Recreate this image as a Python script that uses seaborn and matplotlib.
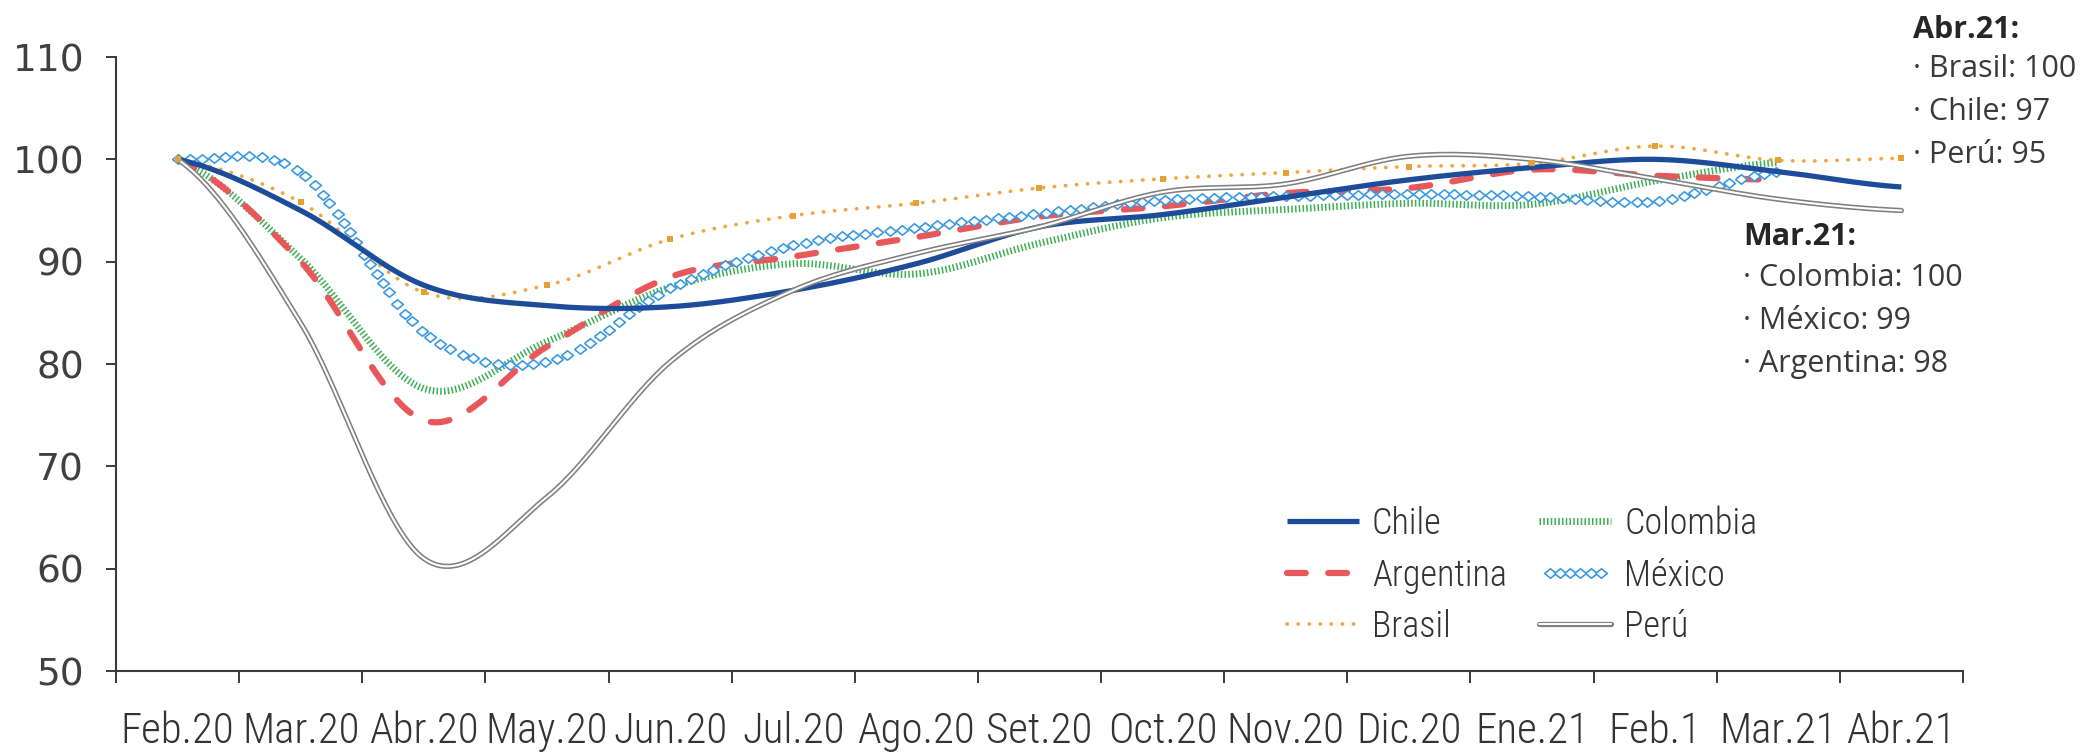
import numpy as np
import pandas as pd
import matplotlib
matplotlib.use("Agg")
import matplotlib.pyplot as plt
import matplotlib.patheffects as pe
from matplotlib import font_manager
from matplotlib.legend_handler import HandlerLine2D
from matplotlib.lines import Line2D
import seaborn as sns

# monthly index, Feb.20 = 100
MONTHS = ["Feb.20", "Mar.20", "Abr.20", "May.20", "Jun.20", "Jul.20", "Ago.20",
          "Set.20", "Oct.20", "Nov.20", "Dic.20", "Ene.21", "Feb.1", "Mar.21", "Abr.21"]

CHILE = [100, 95.0, 87.7, 85.7, 85.6, 87.2, 89.8, 93.4, 94.6, 96.3, 98.0, 99.2, 100.0, 98.8, 97.3]
ARGENTINA = [100, 90.0, 74.5, 81.7, 88.5, 90.5, 92.4, 94.4, 95.4, 96.7, 97.2, 99.0, 98.4, 98.0]
BRASIL = [100, 95.8, 87.0, 87.7, 92.2, 94.5, 95.7, 97.2, 98.1, 98.7, 99.3, 99.6, 101.3, 99.9, 100.1]
COLOMBIA = [100, 90.3, 77.6, 82.2, 87.5, 89.8, 88.8, 91.8, 94.3, 95.1, 95.7, 95.6, 97.9, 99.7]
MEXICO = [100, 98.7, 83.1, 80.2, 87.4, 91.6, 93.3, 94.7, 96.0, 96.4, 96.6, 96.4, 95.9, 98.8]
PERU = [100, 84.0, 61.0, 67.0, 80.2, 87.2, 90.8, 93.4, 96.8, 97.6, 100.3, 100.0, 98.1, 96.1, 95.0]

LEGEND_LABELS = ["Chile", "Argentina", "Brasil", "Colombia", "México", "Perú"]
NOTE_ABR = ["Abr.21:", "· Brasil: 100", "· Chile: 97", "· Perú: 95"]
NOTE_MAR = ["Mar.21:", "· Colombia: 100", "· México: 99", "· Argentina: 98"]

C_CHILE = "#1c4c9a"
C_ARG = "#e8585b"
C_BRA = "#f3a53f"
C_COL = "#3fae55"
C_MEX = "#3b9ae1"
C_PERU = "#808080"


def excel_smooth(values, n=60):
    # smoothed line through the monthly points (like Excel's "smoothed line")
    y = np.asarray(values, float)
    m = np.empty_like(y)
    m[1:-1] = (y[2:] - y[:-2]) / 2
    m[0] = (y[1] - y[0]) / 2
    m[-1] = (y[-1] - y[-2]) / 2
    t = np.linspace(0, 1, n, endpoint=False)
    h00 = 2 * t**3 - 3 * t**2 + 1
    h10 = t**3 - 2 * t**2 + t
    h01 = -2 * t**3 + 3 * t**2
    h11 = t**3 - t**2
    xs, ys = [], []
    for i in range(len(y) - 1):
        xs.append(i + t)
        ys.append(h00 * y[i] + h10 * m[i] + h01 * y[i + 1] + h11 * m[i + 1])
    xs.append([len(y) - 1])
    ys.append([y[-1]])
    return pd.DataFrame({"x": np.concatenate(xs), "y": np.concatenate(ys)})


def narrow_font():
    wanted = ["LiberationSansNarrow-Regular", "RobotoCondensed-Light",
              "RobotoCondensed-Regular", "OpenSans_Condensed-Light",
              "OpenSansCondensed-Light", "DejaVuSansCondensed.ttf"]
    files = [f.fname for f in font_manager.fontManager.ttflist]
    for w in wanted:
        for f in files:
            if w in f:
                return font_manager.FontProperties(fname=f), 1.0
    return font_manager.FontProperties(family="Liberation Sans"), 0.85


sns.set_theme(style="ticks")
plt.rcParams["font.family"] = ["DejaVu Sans"]

fig = plt.figure(figsize=(20.9, 7.56), dpi=100)
ax = fig.add_axes([0.0555, 0.1124, 0.8837, 0.8122])

diamond = [(-1, 0), (0, 0.8), (1, 0), (0, -0.8), (-1, 0)]

sns.lineplot(data=excel_smooth(COLOMBIA), x="x", y="y", ax=ax, estimator=None,
             color=C_COL, lw=5.0, linestyle=(0, (0.22, 0.32)), dash_capstyle="butt")
sns.lineplot(data=excel_smooth(ARGENTINA), x="x", y="y", ax=ax, estimator=None,
             color=C_ARG, lw=4.5, linestyle=(0, (3.0, 3.6)), dash_capstyle="round")
sns.lineplot(data=excel_smooth(BRASIL), x="x", y="y", ax=ax, estimator=None,
             color=C_BRA, lw=2.7, linestyle=(0, (0.05, 2.9)), dash_capstyle="round")
sns.scatterplot(x=np.arange(len(BRASIL)), y=BRASIL, ax=ax, marker="s", s=24,
                color="#e3a137", linewidth=0, zorder=3)
sns.lineplot(data=excel_smooth(MEXICO), x="x", y="y", ax=ax, estimator=None,
             linestyle="none", marker=diamond, markersize=8.5, markevery=0.0062,
             markerfacecolor="white", markeredgecolor=C_MEX, markeredgewidth=1.2)
sns.lineplot(data=excel_smooth(CHILE), x="x", y="y", ax=ax, estimator=None,
             color=C_CHILE, lw=3.8, solid_capstyle="butt")
sns.lineplot(data=excel_smooth(PERU), x="x", y="y", ax=ax, estimator=None,
             color="white", lw=1.5,
             path_effects=[pe.Stroke(linewidth=3.8, foreground=C_PERU), pe.Normal()])

# axes
ax.set_xlim(-0.5, len(MONTHS) - 0.5)
ax.set_ylim(50, 110)
ax.set_yticks(range(50, 111, 10))
ax.set_xticks(np.arange(-0.5, len(MONTHS), 1))
ax.set_xticklabels([])
ax.set_xticks(np.arange(len(MONTHS)), minor=True)
ax.set_xticklabels(MONTHS, minor=True)
ax.set_xlabel("")
ax.set_ylabel("")
sns.despine(ax=ax)
for side in ["left", "bottom"]:
    ax.spines[side].set_color("#3a3a3a")
    ax.spines[side].set_linewidth(1.5)

fp, scale = narrow_font()
ax.tick_params(axis="x", which="major", length=8.5, width=1.4, color="#3a3a3a", direction="out")
ax.tick_params(axis="x", which="minor", length=0, pad=29, labelcolor="#333333")
ax.tick_params(axis="y", length=7, width=1.4, color="#3a3a3a", pad=16,
               labelsize=27, labelcolor="#404040")
for lab in ax.get_xticklabels(minor=True):
    lab.set_fontproperties(fp)
    lab.set_fontsize(31 * scale)

# legend
handles = [
    Line2D([], [], color=C_CHILE, lw=3.8, solid_capstyle="butt"),
    Line2D([], [], color=C_ARG, lw=4.5, linestyle=(0, (3.0, 3.6)), dash_capstyle="round"),
    Line2D([], [], color=C_BRA, lw=2.7, linestyle=(0, (0.05, 2.9)), dash_capstyle="round"),
    Line2D([], [], color=C_COL, lw=5.0, linestyle=(0, (0.22, 0.32))),
    Line2D([], [], linestyle="none", marker=diamond, markersize=8.5,
           markerfacecolor="white", markeredgecolor=C_MEX, markeredgewidth=1.2),
    Line2D([], [], color="white", lw=1.5,
           path_effects=[pe.Stroke(linewidth=3.8, foreground=C_PERU), pe.Normal()]),
]
leg_fp = fp.copy()
leg_fp.set_size(26 * scale)
fig.legend(handles, LEGEND_LABELS, ncol=2, loc="upper left",
           bbox_to_anchor=(1287 / 2090, 1 - 506 / 756), frameon=False,
           prop=leg_fp, handlelength=2.0, handletextpad=0.35, columnspacing=0.9,
           labelspacing=0.43, borderpad=0, borderaxespad=0,
           handler_map={handles[4]: HandlerLine2D(numpoints=6)},
           labelcolor="#333333")

# notes at the right
for i, line in enumerate(NOTE_ABR):
    fig.text(1913 / 2090, 1 - (30 + 43 * i - (0 if i == 0 else 4)) / 756, line,
             fontfamily="Open Sans", fontsize=22, va="center", ha="left",
             fontweight="bold" if i == 0 else "normal",
             color="#262626" if i == 0 else "#3a3a3a")
for i, line in enumerate(NOTE_MAR):
    fig.text(1743 / 2090, 1 - (237 + 43 * i - (0 if i == 0 else 2)) / 756, line,
             fontfamily="Open Sans", fontsize=22, va="center", ha="left",
             fontweight="bold" if i == 0 else "normal",
             color="#262626" if i == 0 else "#3a3a3a")

fig.savefig("out.png", dpi=100, facecolor="white")
